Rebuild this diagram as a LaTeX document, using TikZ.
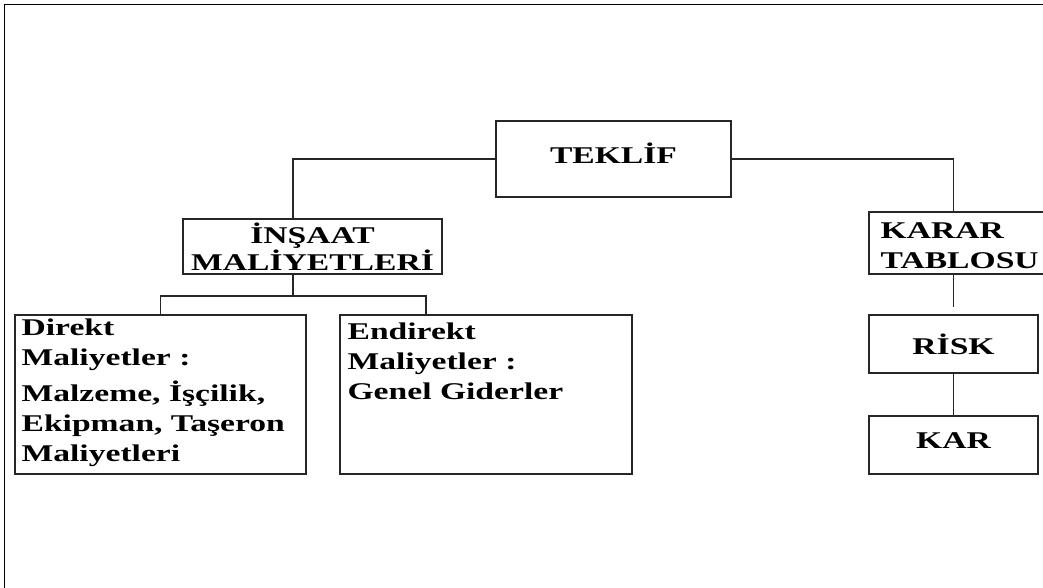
\documentclass[tikz,border=0pt]{standalone}
\usepackage{fontspec}
\setmainfont{Liberation Serif}[FakeStretch=1.4]
\begin{document}
\begin{tikzpicture}[x=1pt, y=-1pt,
		kutu/.style={draw=black!85, line width=1.2pt, inner sep=0pt},
		yazi/.style={font=\bfseries\fontsize{24}{30}\selectfont, inner sep=0pt, align=left},
		hat/.style={draw=black!85, line width=1.2pt}]
		\useasboundingbox (0,0) rectangle (1043,588);
		\clip (0,0) rectangle (1043,588);
		
		% cerceve
		\draw[line width=1.5pt] (4.5,588) -- (4.5,4.3) -- (1043,4.3);
		
		% ust seviye
		\node[kutu, yazi, minimum width=235, minimum height=76, text depth=12pt] (teklif) at (613.5,159) {TEKLİF};
		\node[kutu, yazi, align=center, font=\bfseries\fontsize{24}{25}\selectfont,
			minimum width=259, minimum height=55] (insaat) at (312.5,246.5) {İNŞAAT\\MALİYETLERİ};
		\node[kutu, minimum width=201, minimum height=62] (karar) at (969.5,243) {};
		\node[yazi, anchor=north west] (kararyazi) at ([shift={(12,11)}]karar.north west) {KARAR\\TABLOSU};
		
		% maliyetler
		\node[kutu, minimum width=291, minimum height=159] (direkt) at (160.5,394.5) {};
		\node[yazi, anchor=north west] (direktyazi) at ([shift={(7,4.5)}]direkt.north west)
			{Direkt\\Maliyetler :\\[6pt]Malzeme, İşçilik,\\Ekipman, Taşeron\\Maliyetleri};
		\node[kutu, minimum width=292, minimum height=159] (endirekt) at (486,394.5) {};
		\node[yazi, anchor=north west] (endirektyazi) at ([shift={(8,8.5)}]endirekt.north west)
			{Endirekt\\Maliyetler :\\Genel Giderler};
		
		% risk ve kar
		\node[kutu, yazi, minimum width=169, minimum height=58] (risk) at (953.5,344) {RİSK};
		\node[kutu, yazi, minimum width=169, minimum height=58, text depth=8pt] (kar) at (953.5,445) {KAR};
		
		% baglantilar
		\coordinate (dal) at (293,296);
		\draw[hat] (teklif.west) -| ([xshift=-19.5pt]insaat.north);
		\draw[hat] (teklif.east) -| (risk.north |- karar.north);
		\draw[hat] ([xshift=-19.5pt]insaat.south) -- (dal);
		\draw[hat] (direkt.north) |- (dal) -| ([xshift=-60pt]endirekt.north);
		\draw[hat] (risk.north |- karar.south) -- ([yshift=7pt]risk.north);
		\draw[hat] (risk) -- (kar);
		\end{tikzpicture}
\end{document}
